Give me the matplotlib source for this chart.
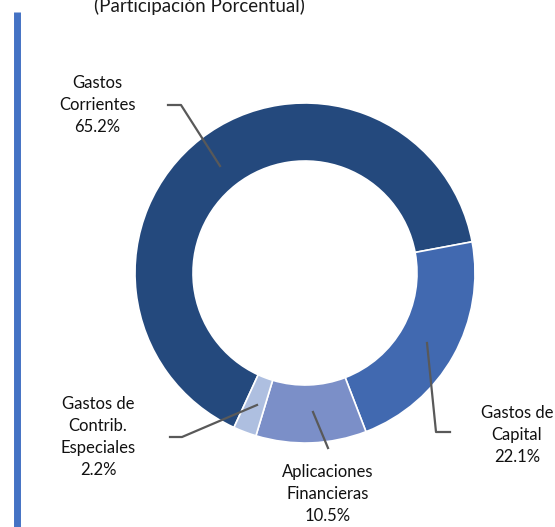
import matplotlib
matplotlib.use("Agg")
import matplotlib.pyplot as plt

categories = ["Gastos\nCorrientes", "Gastos de\nCapital", "Aplicaciones\nFinancieras", "Gastos de\nContrib.\nEspeciales"]
values = [65.2, 22.1, 10.5, 2.2]
colors = ["#24497D", "#4169B0", "#7B8FC8", "#AEBFE0"]
title = "(Participación Porcentual)"

plt.rcParams['font.family'] = ['Lato', 'DejaVu Sans']
W, H = 555, 527
fig = plt.figure(figsize=(W/100, H/100), dpi=100)
ax = fig.add_axes([0, 0, 1, 1])

def Y(y):
    return H - y

cx, cy, R = 305, Y(273), 170
ax.pie(values, colors=colors, startangle=245.3, counterclock=False,
       center=(cx, cy), radius=R, frame=True,
       wedgeprops=dict(width=58, edgecolor='white', linewidth=1.2))
ax.set_xlim(0, W)
ax.set_ylim(0, H)
ax.set_aspect('auto')
ax.axis('off')

# left accent bar
ax.plot([17, 17], [Y(12), Y(527)], color="#4472C4", lw=5, solid_capstyle='butt')

# title (cut at top)
ax.text(199, Y(12), title, ha='center', va='baseline', fontsize=13.5, color='#1a1a1a')

lc = '#595959'
fs = 12
labels = [f"{c}\n{v:.1f}%" for c, v in zip(categories, values)]

# Corrientes
ax.plot([168, 181, 220], [Y(105), Y(105), Y(166)], color=lc, lw=1.6)
ax.text(97, Y(105), labels[0], ha='center', va='center', fontsize=fs, linespacing=1.45, color='#111111')
# Capital
ax.plot([427, 436, 450], [Y(343), Y(432), Y(432)], color=lc, lw=1.6)
ax.text(517, Y(435), labels[1], ha='center', va='center', fontsize=fs, linespacing=1.45, color='#111111')
# Aplicaciones
ax.plot([313, 328], [Y(412), Y(448)], color=lc, lw=1.6)
ax.text(328, Y(494), labels[2], ha='center', va='center', fontsize=fs, linespacing=1.45, color='#111111')
# Especiales
ax.plot([170, 182, 257], [Y(437), Y(437), Y(405)], color=lc, lw=1.6)
ax.text(98, Y(437), labels[3], ha='center', va='center', fontsize=fs, linespacing=1.45, color='#111111')

fig.savefig("out.png", dpi=100)
